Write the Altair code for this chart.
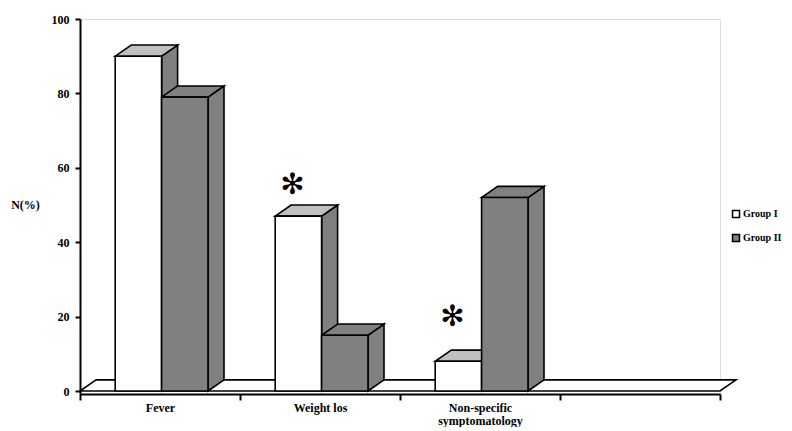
import altair as alt
import pandas as pd

# ---- data ----
category_lines = [["Fever"], ["Weight los"], ["Non-specific", "symptomatology"]]
groups = ["Group I", "Group II"]
group1 = [90, 47, 8]
group2 = [79, 15, 52]
star_categories = [1, 2]          # index of category carrying an asterisk (Group I bars)
star_levels = [55.4, 20.0]        # y level of the asterisk centre
n_slots = 4
y_ticks = [0, 20, 40, 60, 80, 100]

# ---- geometry / style constants ----
GAP, BAR_W, DX, DY = 0.22, 0.29, 0.1, 3.0
FRONT = {"Group I": "#ffffff", "Group II": "#808080"}
TOP = {"Group I": "#c0c0c0", "Group II": "#808080"}
SIDE = "#808080"
FONT = "Liberation Serif"
SW = 1.6

fronts, sides, tops, stars = [], [], [], []
for gi, (g, vals) in enumerate(zip(groups, [group1, group2])):
    for ci, v in enumerate(vals):
        bid = f"{g}-{ci}"
        xl = ci + GAP + gi * BAR_W
        xr = xl + BAR_W
        fronts.append({"bar": bid, "group": g, "xl": xl, "xr": xr, "y0": 0, "v": v})
        sides.append({"bar": bid, "group": g, "x": xr, "y": 0, "y2": v})
        sides.append({"bar": bid, "group": g, "x": xr + DX, "y": DY, "y2": v + DY})
        tops.append({"bar": bid, "group": g, "y": v, "x": xl, "x2": xr})
        tops.append({"bar": bid, "group": g, "y": v + DY, "x": xl + DX, "x2": xr + DX})
for ci, lvl in zip(star_categories, star_levels):
    stars.append({"x": ci + GAP + BAR_W / 2, "y": lvl, "t": "\u273b"})

floor = pd.DataFrame([
    {"y": 0, "x": 0, "x2": n_slots},
    {"y": DY, "x": DX, "x2": n_slots + DX},
])
fronts = pd.DataFrame(fronts)
sides = pd.DataFrame(sides)
tops = pd.DataFrame(tops)
stars = pd.DataFrame(stars)

# axis label expression built from the category list
half_vals = [i + 0.5 for i in range(len(category_lines))]
expr = "''"
for hv, lines in reversed(list(zip(half_vals, category_lines))):
    lab = "[" + ",".join(f"'{s}'" for s in lines) + "]"
    expr = f"datum.value == {hv} ? {lab} : ({expr})"

xscale = alt.Scale(domain=[0, n_slots], nice=False, zero=False)
yscale = alt.Scale(domain=[-0.8, 100], nice=False, zero=False)

xaxis = alt.Axis(
    values=sorted([float(i) for i in range(n_slots + 1)] + half_vals),
    labelExpr=expr, title=None, grid=False, domainColor="black", domainWidth=2,
    tickColor="black", tickWidth=2, tickSize=6,
    tickOpacity={"condition": {"test": "datum.value % 1 != 0", "value": 0}, "value": 1},
    labelFont=FONT, labelFontWeight="bold", labelFontSize=12, labelColor="black",
    labelPadding=2, labelLineHeight=13, labelOverlap=False, labelFlush=False,
)
yaxis = alt.Axis(
    values=y_ticks, title="N(%)", titleAngle=0, titleX=-55, titleY=185,
    titleAlign="center", titleBaseline="middle", titleFont=FONT, titleFontWeight="bold",
    titleFontSize=12, titleColor="black", grid=False, domainColor="black", domainWidth=2,
    tickColor="black", tickWidth=2, tickSize=5, labelFont=FONT, labelFontWeight="bold",
    labelFontSize=12, labelColor="black", labelPadding=6,
)

floor_layer = alt.Chart(floor).mark_area(
    orient="horizontal", fill="white", stroke="black", strokeWidth=SW
).encode(
    y=alt.Y("y:Q", scale=yscale, axis=yaxis),
    x=alt.X("x:Q", scale=xscale, axis=xaxis),
    x2="x2:Q",
)

side_layer = alt.Chart(sides).mark_area(
    fill=SIDE, stroke="black", strokeWidth=SW, strokeJoin="miter"
).encode(
    x=alt.X("x:Q", scale=xscale),
    y=alt.Y("y:Q", scale=yscale),
    y2="y2:Q",
    detail="bar:N",
)

top_layers = []
for g in groups:
    top_layers.append(
        alt.Chart(tops[tops["group"] == g]).mark_area(
            orient="horizontal", fill=TOP[g], stroke="black", strokeWidth=SW, strokeJoin="miter"
        ).encode(
            y=alt.Y("y:Q", scale=yscale),
            x=alt.X("x:Q", scale=xscale),
            x2="x2:Q",
            detail="bar:N",
        )
    )

front_layer = alt.Chart(fronts).mark_rect(stroke="black", strokeWidth=SW).encode(
    x=alt.X("xl:Q", scale=xscale),
    x2="xr:Q",
    y=alt.Y("y0:Q", scale=yscale),
    y2="v:Q",
    color=alt.Color(
        "group:N",
        scale=alt.Scale(domain=groups, range=[FRONT[g] for g in groups]),
        legend=alt.Legend(
            orient="none", legendX=651, legendY=190, title=None, symbolType="square",
            symbolSize=49, symbolStrokeColor="black", symbolStrokeWidth=1.5,
            labelFont=FONT, labelFontWeight="bold", labelFontSize=10, labelColor="black",
            rowPadding=10, padding=0, labelOffset=2, labelLimit=200,
        ),
    ),
)

star_layer = alt.Chart(stars).mark_text(
    font="DejaVu Sans", fontSize=29, align="center", baseline="middle", color="black", dx=-6
).encode(
    x=alt.X("x:Q", scale=xscale),
    y=alt.Y("y:Q", scale=yscale),
    text="t:N",
)

chart = alt.layer(floor_layer, side_layer, *top_layers, front_layer, star_layer).properties(
    width=640, height=375,
    autosize=alt.AutoSizeParams(type="none"),
    padding={"left": 72, "top": 11, "right": 64, "bottom": 33},
).configure_view(stroke=None).configure(background="white")

chart.save("out.html", embed_options={"renderer": "svg", "actions": False})
